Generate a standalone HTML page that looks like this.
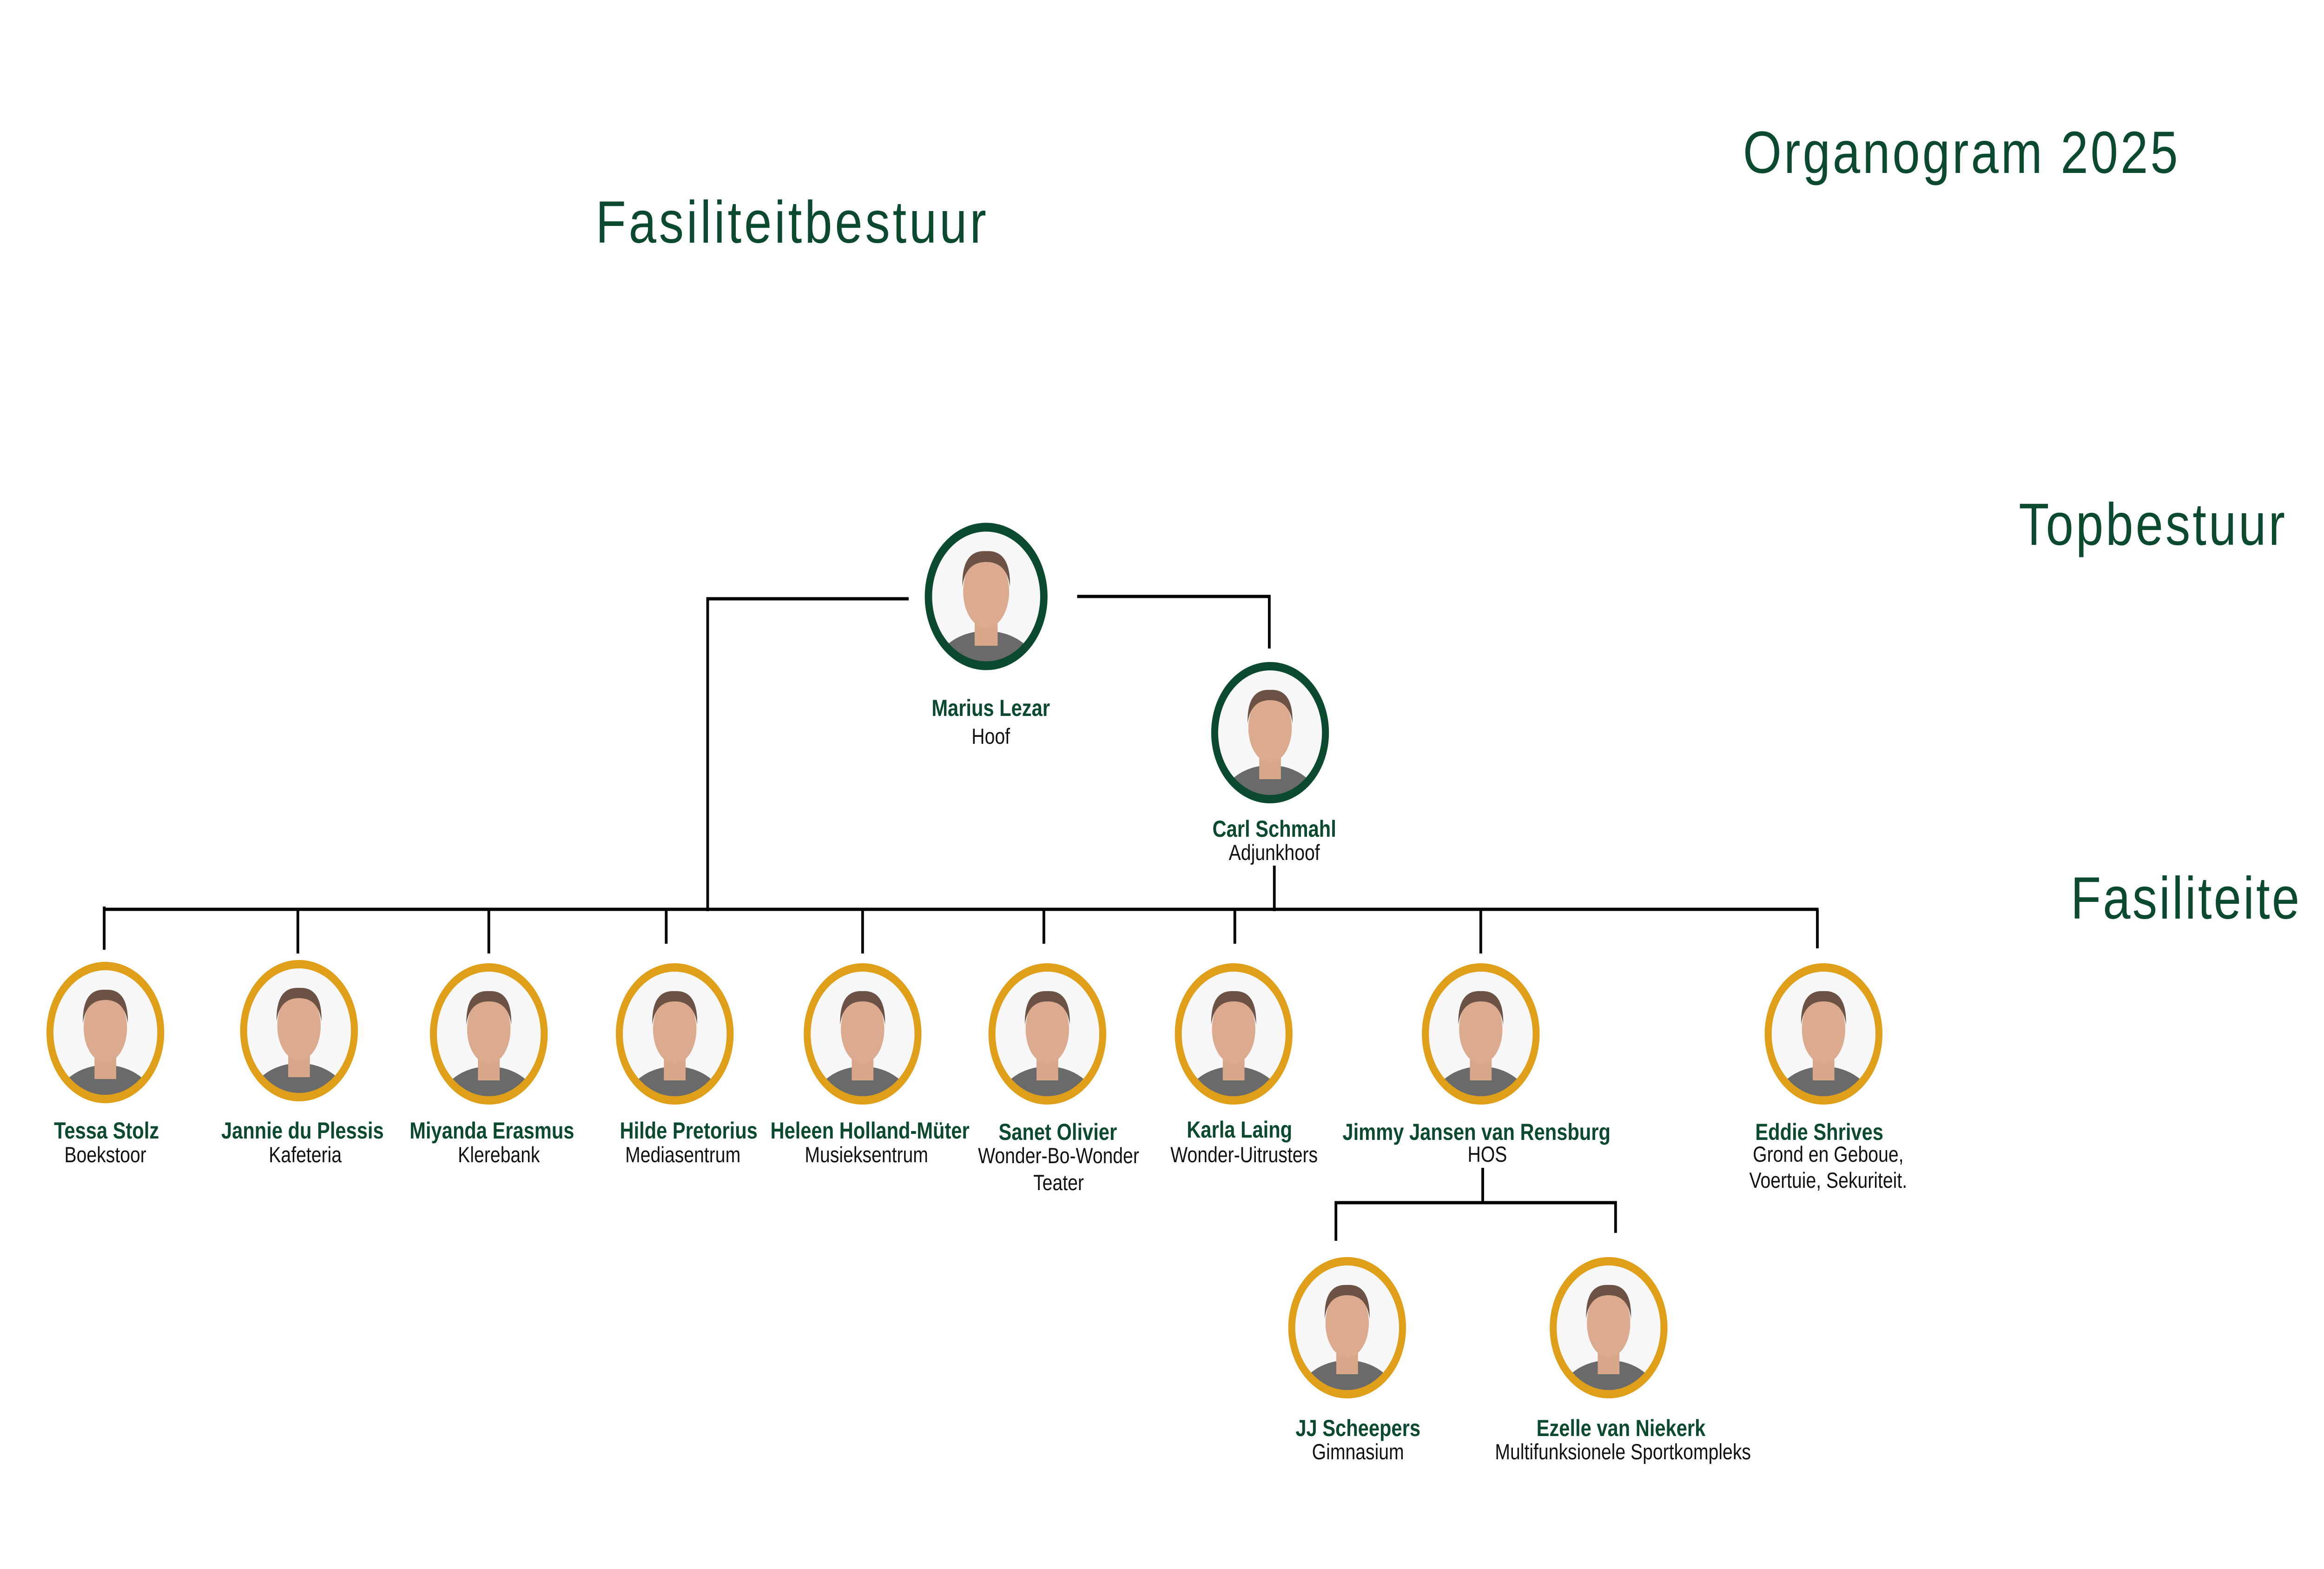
<!DOCTYPE html>
<html><head><meta charset="utf-8"><style>
html,body{margin:0;padding:0;background:#fff;width:100%;height:100%;overflow:hidden}
svg{display:block;width:100vw;height:100vh}
.t{font-family:"Liberation Sans",sans-serif;fill:#0b4a2e}
.n{font-family:"Liberation Sans",sans-serif;font-weight:bold;fill:#0b4a2e;font-size:50px;text-anchor:middle}
.r{font-family:"Liberation Sans",sans-serif;fill:#111;font-size:47px;text-anchor:middle}
</style></head><body>
<svg viewBox="0 0 6000 3375" preserveAspectRatio="none" xmlns="http://www.w3.org/2000/svg">
<defs>
<clipPath id="c"><circle cx="0" cy="0" r="136"/></clipPath>
<g id="p">
 <g clip-path="url(#c)">
  <circle r="136" fill="#f7f7f7"/>
  <ellipse cx="0" cy="150" rx="125" ry="80" fill="#6a6a6a"/>
  <rect x="-28" y="40" width="56" height="60" fill="#d8a789"/>
  <ellipse cx="0" cy="-10" rx="56" ry="74" fill="#dcaa8e"/>
  <path d="M-58,-20 Q-60,-95 0,-92 Q60,-95 58,-20 Q50,-70 0,-70 Q-50,-70 -58,-20Z" fill="#6b5244"/>
 </g>
</g>
</defs>

<text class="t" x="4500" y="372" font-size="128" letter-spacing="6">Organogram 2025</text>
<text class="t" x="1538" y="522" font-size="128" letter-spacing="7">Fasiliteitbestuur</text>
<text class="t" x="5212" y="1172" font-size="128" letter-spacing="6">Topbestuur</text>
<text class="t" x="5346" y="1976" font-size="128" letter-spacing="5">Fasiliteite</text>

<g stroke="#000" stroke-width="7" fill="none">
 <polyline points="2346,1288 1827,1288 1827,1960"/>
 <polyline points="2781,1283 3277,1283 3277,1395"/>
 <line x1="3290" y1="1862" x2="3290" y2="1960"/>
 <line x1="266" y1="1956" x2="4695" y2="1956"/>
 <line x1="269" y1="1950" x2="269" y2="2043"/>
 <line x1="769" y1="1956" x2="769" y2="2051"/>
 <line x1="1262" y1="1956" x2="1262" y2="2051"/>
 <line x1="1720" y1="1956" x2="1720" y2="2030"/>
 <line x1="2227" y1="1956" x2="2227" y2="2051"/>
 <line x1="2695" y1="1956" x2="2695" y2="2030"/>
 <line x1="3188" y1="1956" x2="3188" y2="2030"/>
 <line x1="3823" y1="1956" x2="3823" y2="2051"/>
 <line x1="4692" y1="1956" x2="4692" y2="2040"/>
 <line x1="3828" y1="2512" x2="3828" y2="2587"/>
 <polyline points="3449,2669 3449,2587 4171,2587 4171,2652"/>
</g>

<use href="#p" transform="translate(2546,1283) scale(1.06)"/>
<circle cx="2546" cy="1283" r="149" fill="none" stroke="#0b4a2e" stroke-width="19"/>
<text class="n" x="2558" y="1540" font-size="84">Marius Lezar</text>
<text class="r" x="2558" y="1600" font-size="54">Hoof</text>

<use href="#p" transform="translate(3279,1576)"/>
<circle cx="3279" cy="1576" r="143" fill="none" stroke="#0b4a2e" stroke-width="18"/>
<text class="n" x="3290" y="1800" font-size="54">Carl Schmahl</text>
<text class="r" x="3290" y="1850">Adjunkhoof</text>

<g>
 <use href="#p" x="272" y="2221"/><circle cx="272" cy="2221" r="143" fill="none" stroke="#e09f18" stroke-width="18"/>
 <use href="#p" x="772" y="2217"/><circle cx="772" cy="2217" r="143" fill="none" stroke="#e09f18" stroke-width="18"/>
 <use href="#p" x="1262" y="2224"/><circle cx="1262" cy="2224" r="143" fill="none" stroke="#e09f18" stroke-width="18"/>
 <use href="#p" x="1742" y="2224"/><circle cx="1742" cy="2224" r="143" fill="none" stroke="#e09f18" stroke-width="18"/>
 <use href="#p" x="2227" y="2224"/><circle cx="2227" cy="2224" r="143" fill="none" stroke="#e09f18" stroke-width="18"/>
 <use href="#p" x="2704" y="2224"/><circle cx="2704" cy="2224" r="143" fill="none" stroke="#e09f18" stroke-width="18"/>
 <use href="#p" x="3185" y="2224"/><circle cx="3185" cy="2224" r="143" fill="none" stroke="#e09f18" stroke-width="18"/>
 <use href="#p" x="3823" y="2224"/><circle cx="3823" cy="2224" r="143" fill="none" stroke="#e09f18" stroke-width="18"/>
 <use href="#p" x="4708" y="2224"/><circle cx="4708" cy="2224" r="143" fill="none" stroke="#e09f18" stroke-width="18"/>
 <use href="#p" x="3478" y="2856"/><circle cx="3478" cy="2856" r="143" fill="none" stroke="#e09f18" stroke-width="18"/>
 <use href="#p" x="4153" y="2856"/><circle cx="4153" cy="2856" r="143" fill="none" stroke="#e09f18" stroke-width="18"/>
</g>

<text class="n" x="275" y="2449">Tessa Stolz</text><text class="r" x="272" y="2500">Boekstoor</text>
<text class="n" x="781" y="2449">Jannie du Plessis</text><text class="r" x="788" y="2500">Kafeteria</text>
<text class="n" x="1270" y="2449">Miyanda Erasmus</text><text class="r" x="1288" y="2500">Klerebank</text>
<text class="n" x="1778" y="2449">Hilde Pretorius</text><text class="r" x="1763" y="2500">Mediasentrum</text>
<text class="n" x="2246" y="2449">Heleen Holland-Müter</text><text class="r" x="2237" y="2500">Musieksentrum</text>
<text class="n" x="2731" y="2452">Sanet Olivier</text><text class="r" x="2733" y="2502">Wonder-Bo-Wonder</text><text class="r" x="2733" y="2560">Teater</text>
<text class="n" x="3200" y="2447">Karla Laing</text><text class="r" x="3212" y="2500">Wonder-Uitrusters</text>
<text class="n" x="3812" y="2452">Jimmy Jansen van Rensburg</text><text class="r" x="3840" y="2499">HOS</text>
<text class="n" x="4697" y="2452">Eddie Shrives</text><text class="r" x="4720" y="2499">Grond en Geboue,</text><text class="r" x="4720" y="2555">Voertuie, Sekuriteit.</text>
<text class="n" x="3506" y="3089">JJ Scheepers</text><text class="r" x="3506" y="3139">Gimnasium</text>
<text class="n" x="4185" y="3089">Ezelle van Niekerk</text><text class="r" x="4190" y="3139">Multifunksionele Sportkompleks</text>
</svg>
</body></html>
